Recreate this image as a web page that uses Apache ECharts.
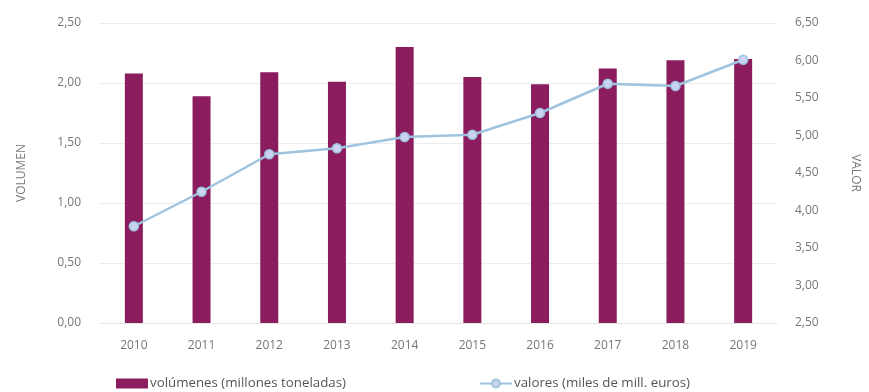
<!DOCTYPE html>
<html>
<head>
<meta charset="utf-8">
<script src="https://cdn.jsdelivr.net/npm/echarts@6/dist/echarts.min.js"></script>
<style>
  html, body { margin: 0; padding: 0; background: #fff; }
  #chart { width: 869px; height: 392px; }
</style>
</head>
<body>
<div id="chart"></div>
<script>
// Years on the category axis
const years = ['2010', '2011', '2012', '2013', '2014', '2015', '2016', '2017', '2018', '2019'];
// Volume, millions of tonnes (left axis)
const volumenes = [2.08, 1.89, 2.09, 2.01, 2.30, 2.05, 1.99, 2.12, 2.19, 2.20];
// Value, thousands of millions of euros (right axis)
const valores = [3.79, 4.25, 4.75, 4.83, 4.98, 5.01, 5.30, 5.69, 5.66, 6.01];

const nameVol = 'volúmenes (millones toneladas)';
const nameVal = 'valores (miles de mill. euros)';

const fmt = v => v.toFixed(2).replace('.', ',');
const font = '"Open Sans", "Noto Sans", sans-serif';
const labelColor = '#777';

const chart = echarts.init(document.getElementById('chart'), null, { renderer: 'canvas' });
chart.setOption({
  animation: false,
  textStyle: { fontFamily: font },
  grid: { left: 100, right: 87, top: 23, bottom: 69 },
  legend: [
    {
      data: [{ name: nameVol, icon: 'rect' }], left: 111, top: 372,
      itemWidth: 32, itemHeight: 10,
      textStyle: { color: '#555', fontSize: 13.3, fontFamily: font, padding: [0, 0, 0, -3] }
    },
    {
      data: [nameVal], left: 474, top: 372,
      itemWidth: 32, itemHeight: 10,
      textStyle: { color: '#555', fontSize: 13.3, fontFamily: font, padding: [0, 0, 0, -3] }
    }
  ],
  xAxis: {
    type: 'category',
    data: years,
    axisLine: { lineStyle: { color: '#e4e4e4' } },
    axisTick: { show: false },
    axisLabel: { color: labelColor, fontSize: 12, margin: 17 }
  },
  yAxis: [
    {
      type: 'value', min: 0, max: 2.5, interval: 0.5,
      name: 'VOLUMEN', nameLocation: 'middle', nameGap: 72,
      nameTextStyle: { color: labelColor, fontSize: 12 },
      axisLabel: { color: labelColor, fontSize: 12, margin: 19, formatter: fmt },
      axisLine: { show: false }, axisTick: { show: false },
      splitLine: { lineStyle: { color: '#ececec' } }
    },
    {
      type: 'value', min: 2.5, max: 6.5, interval: 0.5,
      name: 'VALOR', nameLocation: 'middle', nameGap: 72, nameRotate: -90,
      nameTextStyle: { color: labelColor, fontSize: 12 },
      axisLabel: { color: labelColor, fontSize: 12, margin: 18, formatter: fmt },
      axisLine: { show: false }, axisTick: { show: false },
      splitLine: { show: false }
    }
  ],
  series: [
    {
      name: nameVol, type: 'bar', data: volumenes, yAxisIndex: 0,
      barWidth: 18,
      itemStyle: { color: '#8B1D5E' }
    },
    {
      name: nameVal, type: 'line', data: valores, yAxisIndex: 1,
      symbol: 'circle', symbolSize: 9,
      lineStyle: { color: '#9EC4E0', width: 2.5 },
      itemStyle: { color: '#CBD3F0', borderColor: '#9EC4E0', borderWidth: 1.5 }
    }
  ]
});
</script>
</body>
</html>
